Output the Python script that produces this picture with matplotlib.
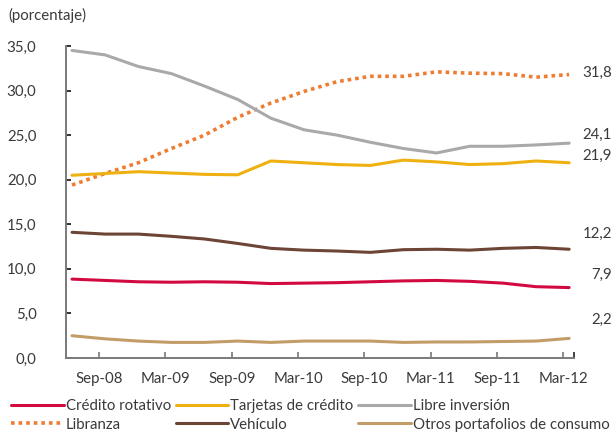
import numpy as np
import matplotlib
matplotlib.use("Agg")
import matplotlib.pyplot as plt
from matplotlib.transforms import blended_transform_factory

# ──────────────────────────────────────────
# Data (quarterly, Jun-08 .. Mar-12), percent
# ──────────────────────────────────────────
QUARTERS = ["Jun-08", "Sep-08", "Dic-08", "Mar-09", "Jun-09", "Sep-09", "Dic-09", "Mar-10",
            "Jun-10", "Sep-10", "Dic-10", "Mar-11", "Jun-11", "Sep-11", "Dic-11", "Mar-12"]
TICK_LABELS = ["Sep-08", "Mar-09", "Sep-09", "Mar-10", "Sep-10", "Mar-11", "Sep-11", "Mar-12"]

credito_rotativo = [8.85, 8.7, 8.55, 8.5, 8.55, 8.5, 8.35, 8.4, 8.45, 8.55, 8.65, 8.7, 8.6, 8.4, 8.0, 7.9]
tarjetas = [20.5, 20.7, 20.9, 20.75, 20.6, 20.55, 22.1, 21.9, 21.7, 21.6, 22.2, 22.0, 21.7, 21.8, 22.1, 21.9]
libre_inversion = [34.5, 34.0, 32.7, 31.9, 30.5, 29.0, 26.9, 25.6, 25.0, 24.2, 23.5, 23.0, 23.75, 23.75, 23.9, 24.1]
libranza = [19.4, 20.7, 21.9, 23.5, 25.0, 27.0, 28.6, 29.9, 31.0, 31.6, 31.6, 32.1, 31.95, 31.9, 31.5, 31.8]
vehiculo = [14.1, 13.9, 13.9, 13.65, 13.35, 12.85, 12.3, 12.1, 12.0, 11.85, 12.15, 12.2, 12.1, 12.3, 12.4, 12.2]
otros = [2.5, 2.15, 1.9, 1.75, 1.75, 1.9, 1.75, 1.9, 1.9, 1.9, 1.75, 1.8, 1.8, 1.85, 1.9, 2.2]

SERIES = [
    ("Crédito rotativo", credito_rotativo, "#D20A40", "-"),
    ("Libranza", libranza, "#EE7D32", (0, (1, 1.1))),
    ("Tarjetas de crédito", tarjetas, "#EEB111", "-"),
    ("Vehículo", vehiculo, "#6D4536", "-"),
    ("Libre inversión", libre_inversion, "#A9A9AB", "-"),
    ("Otros portafolios de consumo", otros, "#C39D68", "-"),
]

# end-of-line value labels sit a little above their line
LABEL_OFFSET = {"Crédito rotativo": 1.4, "Libranza": 0.2, "Tarjetas de crédito": 0.75,
                "Vehículo": 1.75, "Libre inversión": 0.9, "Otros portafolios de consumo": 2.1}

TEXT_COLOR = "#3a3a3a"
FS = 10.8
plt.rcParams["font.family"] = ["Lato", "DejaVu Sans"]

fig = plt.figure(figsize=(6.16, 4.33), dpi=100)
ax = fig.add_axes([0.1067, 0.1732, 0.8253, 0.7206])
label_tr = blended_transform_factory(fig.transFigure, ax.transData)

x = np.arange(len(QUARTERS))
for name, vals, color, ls in SERIES:
    lw = 2.6 if name == "Libranza" else 2.2
    ax.plot(x, vals, color=color, linestyle=ls, linewidth=lw,
            solid_capstyle="round", dash_capstyle="butt", label=name)
    ax.text(0.993, vals[-1] + LABEL_OFFSET[name], f"{vals[-1]:.1f}".replace(".", ","),
            transform=label_tr, ha="right", va="center",
            fontsize=FS, color=TEXT_COLOR, clip_on=False)

ax.set_xlim(-0.19, 15.15)
ax.set_ylim(0, 35)

ax.set_xticks(0.82 + 2 * np.arange(len(TICK_LABELS)))
ax.set_xticklabels(TICK_LABELS)
ax.set_xticks([15.15], minor=True)
yt = np.arange(0, 36, 5)
ax.set_yticks(yt)
ax.set_yticklabels([f"{v:.1f}".replace(".", ",") for v in yt])

for side in ["top", "right"]:
    ax.spines[side].set_visible(False)
for side in ["left", "bottom"]:
    ax.spines[side].set_color("#7a7a7a")
    ax.spines[side].set_linewidth(1.4)

ax.tick_params(axis="y", direction="in", length=3.5, width=1.3, color="#222222",
               pad=21, labelsize=FS, labelcolor=TEXT_COLOR)
ax.tick_params(axis="x", which="both", direction="in", length=4, width=1.2, color="#777777",
               pad=10, labelsize=FS, labelcolor=TEXT_COLOR)
ax.tick_params(axis="x", which="minor", color="#222222")

fig.text(0.013, 0.965, "(porcentaje)", fontsize=FS, color=TEXT_COLOR, ha="left", va="center")

leg = fig.legend(loc="upper left", bbox_to_anchor=(0.018, 0.078), ncol=3, frameon=False,
                 fontsize=FS, handlelength=3.5, handletextpad=0.15, columnspacing=0.3,
                 labelspacing=0.3, borderaxespad=0.0, borderpad=0.0)
for t in leg.get_texts():
    t.set_color(TEXT_COLOR)

fig.savefig("out.png", dpi=100)
